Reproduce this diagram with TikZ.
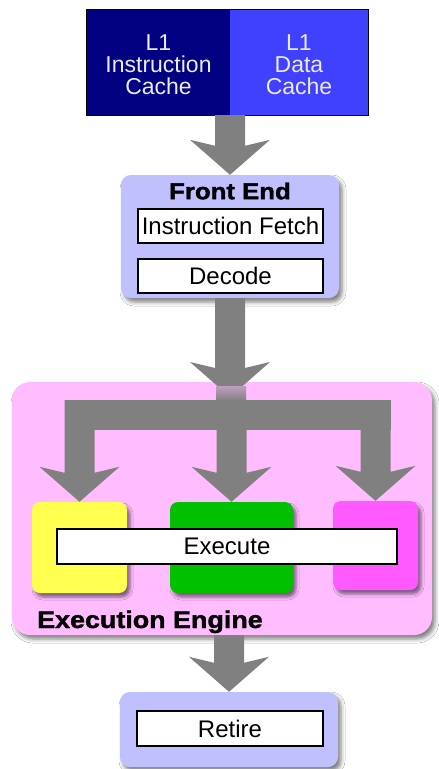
\documentclass[tikz,border=0pt]{standalone}
\usepackage{fontspec}
\setmainfont{Liberation Sans}
\newfontfamily\heavyfont[FakeBold=1.5,FakeStretch=1.12]{Liberation Sans Bold}
\usetikzlibrary{calc,shadows.blur}

\definecolor{navy}{RGB}{0,0,128}
\definecolor{cacheblue}{RGB}{64,64,255}
\definecolor{lavender}{RGB}{192,192,255}
\definecolor{enginepink}{RGB}{255,188,255}
\definecolor{unityellow}{RGB}{255,255,80}
\definecolor{unitgreen}{RGB}{0,192,0}
\definecolor{unitmagenta}{RGB}{255,90,255}
\definecolor{arrowgray}{RGB}{128,128,128}
\definecolor{cachetext}{RGB}{235,235,240}

% broad grey block arrow: shaft starts at the y of #1, tip lands on #2
\newcommand\fatarrow[2]{%
  \fill[arrowgray] let \p1=(#1), \p2=(#2) in
    (\x2-15pt,\y1) -- (\x2-15pt,\y2+29pt) -- (\x2-40pt,\y2+35pt) -- (\x2,\y2)
    -- (\x2+40pt,\y2+35pt) -- (\x2+15pt,\y2+29pt) -- (\x2+15pt,\y1) -- cycle;}

\begin{document}
\begin{tikzpicture}[x=1pt,y=-1pt,
  cache/.style={inner sep=0pt, text=cachetext, align=center,
    font=\fontsize{23}{22}\selectfont},
  stage/.style={rounded corners=10pt, fill=lavender, inner sep=0pt,
    blur shadow={shadow xshift=3pt, shadow yshift=-4pt,
      shadow blur radius=4pt, shadow opacity=50}},
  unitbox/.style={rounded corners=8pt, inner sep=0pt,
    blur shadow={shadow xshift=3pt, shadow yshift=-4pt,
      shadow blur radius=3pt, shadow opacity=50}},
  slot/.style={draw=black, line width=1.2pt, fill=white, inner sep=0pt,
    font=\fontsize{24}{26}\selectfont},
  heading/.style={inner sep=0pt, font=\heavyfont\fontsize{23}{26}\selectfont}]

\useasboundingbox (0,0) rectangle (439,769);
\fill[white] (0,0) rectangle (439,769);

% L1 caches
\node[cache, fill=navy, minimum width=143pt, minimum height=105pt]
  (icache) at (158.5,62.5) {};
\node[cache, fill=cacheblue, minimum width=138pt, minimum height=105pt]
  (dcache) at (299,62.5) {};
\node[cache] (icachetext) at (158.5,65) {L1\\Instruction\\Cache};
\node[cache] (dcachetext) at (299,65) {L1\\Data\\Cache};
\draw[line width=0.8pt] (icache.north west) rectangle (dcache.south east);

% front end
\node[stage, minimum width=218pt, minimum height=123pt] (frontend) at (230,236.5) {};
\node[heading] (fetitle) at (230,191) {Front End};
\node[slot, minimum width=185pt, minimum height=34pt] (fetch) at (230.5,226) {Instruction Fetch};
\node[slot, minimum width=185pt, minimum height=34pt] (decode) at (230.5,276) {Decode};

\fatarrow{icache.south east}{frontend.north}

% execution engine
\node[stage, rounded corners=18pt, fill=enginepink, minimum width=420pt,
  minimum height=253pt] (engine) at (222,508.5) {};

\coordinate (split) at (230,397);
\fatarrow{frontend.south}{split}
\shade[top color=arrowgray!50!enginepink, bottom color=arrowgray]
  (216,386) rectangle (246,401);

% dispatch bus
\coordinate (busleft) at (64.5,400);
\coordinate (busright) at (390.5,430);
\fill[arrowgray] (busleft) rectangle (busright);

\node[unitbox, fill=unityellow, minimum width=95pt, minimum height=91pt] (alu) at (79.5,547.5) {};
\node[unitbox, fill=unitgreen, minimum width=123pt, minimum height=91pt] (fpu) at (231.5,547.5) {};
\node[unitbox, fill=unitmagenta, minimum width=85pt, minimum height=89pt] (mem) at (375.5,545.5) {};

\fatarrow{busleft}{alu.north}
\fatarrow{busleft}{fpu.north}
\fatarrow{busleft}{mem.north}

\node[slot, minimum width=340pt, minimum height=35pt] (execute) at (227,546.5) {Execute};
\node[heading, font=\heavyfont\fontsize{24}{26}\selectfont, anchor=base west]
  (engtitle) at (37,628) {Execution Engine};

% retire
\node[stage, minimum width=218pt, minimum height=75pt] (retirestage) at (229,729.5) {};
\node[slot, minimum width=186pt, minimum height=35pt] (retire) at (230,728.5) {Retire};

\fatarrow{engine.south}{retirestage.north}
\end{tikzpicture}
\end{document}
